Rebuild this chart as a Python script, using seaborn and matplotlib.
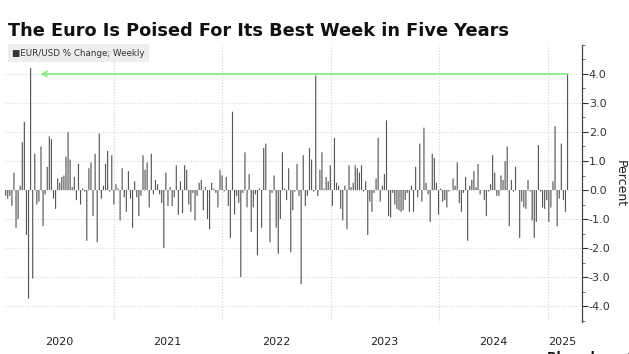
import numpy as np
import pandas as pd
import matplotlib
matplotlib.use("Agg")
import matplotlib.pyplot as plt
import matplotlib.dates as mdates
from matplotlib.ticker import MultipleLocator, FixedLocator, NullFormatter
import seaborn as sns

# Weekly EUR/USD % change (Jan 2020 -> Mar 7 2025)
vals_2020_21a = [-0.2, -0.3, -0.2, -0.55, 0.6, -1.3, -1.0, 0.15, 1.65, 2.35,
                 -1.55, -3.75, 4.2, -3.05, 1.25, -0.5, -0.4, 1.5, -1.25, -0.15,
                 0.8, 1.85, 1.75, -0.3, -0.65, 0.4, 0.25, 0.45, 0.5, 1.15,
                 2.0, 1.05, 0.1, 0.45, -0.35, 0.9, -0.5, 0.05, -0.05, -1.75,
                 0.75, 0.95, -0.9, 1.25, -1.8, 1.95, -0.3, 0.15, 0.9, 1.35,
                 -0.05, 1.2, -0.5, 0.2, 0.05, -1.05, 0.75, -0.25, -0.75, 0.65,
                 -0.3, -1.3, 0.3, -0.25, -0.9, -0.2, 1.2, 0.7, 0.95, -0.6,
                 1.25, -0.15, 0.35, 0.2]
vals_2021b_22 = [-0.15, -0.45, -2.0, 0.6, -0.55, 0.1, -0.55, -0.25, 0.85, -0.85,
                 0.3, -0.8, 0.85, 0.7, -0.5, -0.75, -0.1, -1.05, -0.2, 0.25,
                 0.35, -0.7, 0.1, -1.0, -1.35, 0.25, 0.05, -0.1, -0.6, 0.7,
                 0.5, -0.05, 0.45, -0.55, -1.65, 2.7, -0.85, -0.2, -0.45, -3.0,
                 -0.1, 1.3, -0.6, 0.55, -1.45, -0.6, -0.15, -2.25, 0.05, -1.3,
                 1.45, 1.6, 0.0, -1.8, -0.1, 0.5, -1.3, -2.2, -1.0, 1.3,
                 0.05, -0.35, 0.75, -2.15, -0.7, -0.05, 0.9, -0.2, -3.25, 1.2,
                 -0.55, -0.2]
vals_2022b_23 = [1.45, 1.05, -0.05, 3.95, -0.2, 0.7, 1.3, 0.05, 0.45, 0.3,
                 0.85, -0.55, 1.8, 0.25, 0.15, -0.65, -1.05, 0.15, -1.35, 0.85,
                 0.1, 0.25, 0.85, 0.75, 0.6, 0.85, -0.05, 0.3, -1.55, -0.4,
                 -0.75, -0.1, 0.4, 1.8, -0.4, 0.15, 0.55, 2.4, -0.9, -0.95,
                 -0.1, -0.5, -0.65, -0.7, -0.75, -0.7, -0.35, -0.1, -0.75, 0.15,
                 -0.75, 0.8, -0.25, 1.6, -0.4, 2.15, 0.25, -0.15, -1.1, 1.25,
                 1.1, 0.25, -0.85, 0.05, -0.4, -0.35, -0.6, -0.05, 0.0, 0.4,
                 0.15]
vals_2024_25 = [0.95, -0.45, -0.75, -0.1, 0.45, -1.75, 0.15, 0.35, 0.65, 0.1,
                0.9, -0.15, 0.0, -0.35, -0.9, -0.05, 0.2, 1.2, 0.6, -0.2,
                -0.2, 0.5, 0.35, 1.0, 1.5, -1.25, 0.35, -0.05, 0.8, 0.0,
                -1.65, -0.4, -0.6, -0.65, 0.35, -0.05, -1.05, -1.65, -1.1, 1.55,
                -0.05, -0.6, -0.65, -0.35, -1.1, -0.6, 0.3, 2.2, -1.25, -0.3,
                1.6, -0.35, -0.75, 4.0]
values = vals_2020_21a + vals_2021b_22 + vals_2022b_23 + vals_2024_25
dates = pd.date_range(end="2025-03-07", periods=len(values), freq="W-FRI")

year_labels = ["2020", "2021", "2022", "2023", "2024", "2025"]
year_label_dates = ["2020-07-01", "2021-07-01", "2022-07-01", "2023-07-01",
                    "2024-07-01", "2025-02-17"]
year_starts = ["2021-01-01", "2022-01-01", "2023-01-01", "2024-01-01", "2025-01-01"]
y_ticks = [-4, -3, -2, -1, 0, 1, 2, 3, 4]

title = "The Euro Is Poised For Its Best Week in Five Years"
legend_label = "EUR/USD % Change; Weekly"

sns.set_theme(style="white")
plt.rcParams["font.family"] = ["DejaVu Sans"]
plt.rcParams["axes.unicode_minus"] = False

fig = plt.figure(figsize=(6.29, 3.54), dpi=100)
fig.patch.set_facecolor("white")
ax = fig.add_axes([0.008, 0.0904, 0.917, 0.7826])
ax.set_facecolor("white")

df = pd.DataFrame({"x": mdates.date2num(dates), "pct": values})
sns.barplot(data=df, x="x", y="pct", native_scale=True, width=0.55,
            color="#555555", saturation=1, errorbar=None, ax=ax,
            linewidth=0, zorder=3)
for p in ax.patches:
    p.set_snap(False)

ax.set_xlim(mdates.date2num(pd.Timestamp("2020-01-01")),
            mdates.date2num(pd.Timestamp("2025-04-24")))
ax.set_ylim(-4.55, 5.0)

# grid
ax.xaxis.set_major_locator(FixedLocator(mdates.date2num(pd.to_datetime(year_starts))))
ax.xaxis.set_major_formatter(NullFormatter())
ax.set_xticks(mdates.date2num(pd.to_datetime(year_label_dates)), minor=True)
ax.set_xticklabels(year_labels, minor=True)
ax.tick_params(axis="x", which="both", length=0, labelsize=8, pad=11, colors="#222222")
ax.grid(axis="x", which="major", color="#cfcfcf", linestyle=":", linewidth=0.8, zorder=0)

ax.yaxis.tick_right()
ax.yaxis.set_label_position("right")
ax.set_yticks(y_ticks)
ax.set_yticklabels([f"{v:.1f}" for v in y_ticks])
ax.yaxis.set_minor_locator(MultipleLocator(0.5))
ax.tick_params(axis="y", which="major", length=4, width=0.8, colors="#333333",
               labelsize=8, pad=1, direction="out")
ax.tick_params(axis="y", which="minor", length=2, width=0.6, colors="#555555")
ax.grid(axis="y", which="major", color="#d5d5d5", linestyle=":", linewidth=0.8, zorder=0)
ax.set_ylabel("Percent", rotation=270, labelpad=12, fontsize=9, color="#222222")
ax.set_xlabel("")

for side in ["left", "top", "bottom"]:
    ax.spines[side].set_visible(False)
ax.spines["right"].set_color("#444444")
ax.spines["right"].set_linewidth(0.9)

# green arrow from latest week back to 2020
ax.annotate("", xy=(mdates.date2num(pd.Timestamp("2020-04-28")), 4.0),
            xytext=(mdates.date2num(dates[-1]), 4.0),
            arrowprops=dict(arrowstyle="->", color="#8fe88f", lw=1.3,
                            mutation_scale=9, shrinkA=0, shrinkB=0), zorder=4)

fig.text(8 / 629, 1 - 31 / 354, title, fontsize=12.8, fontweight="bold",
         color="#111111", va="center", ha="left")
fig.text(12 / 629, 1 - 53 / 354, "\u25A0" + legend_label, fontsize=6.3,
         color="#333333", va="center", ha="left",
         bbox=dict(facecolor="#ededed", edgecolor="none", pad=3))
fig.text(547 / 629, 1 - 351 / 354, "Bloomberg \u25A0", fontsize=9,
         fontweight="bold", color="#111111", va="top", ha="left")

fig.savefig("out.png", dpi=100, facecolor="white")
